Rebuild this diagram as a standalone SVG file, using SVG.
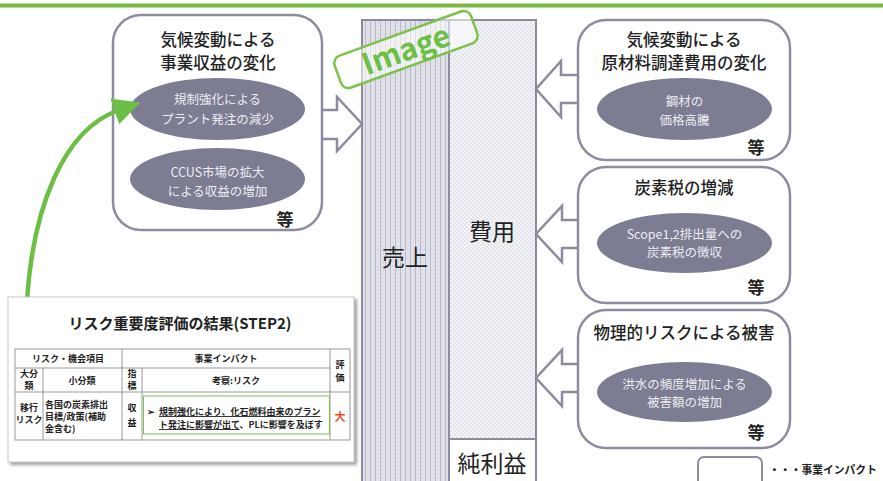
<svg xmlns="http://www.w3.org/2000/svg" width="883" height="481" viewBox="0 0 883 481">
<defs>
<style>
text{font-family:"Noto Sans CJK JP","Noto Sans",sans-serif;}
.box{fill:#fff;stroke:#8c8ca0;stroke-width:2.5;}
.ell{fill:#7c7c92;}
.title{font-size:16.5px;fill:#222;text-anchor:middle;font-weight:500;}
.etxt{font-size:12.5px;fill:#ececf2;text-anchor:middle;}
.etc{font-size:17px;fill:#222;text-anchor:middle;font-weight:700;}
.arr{fill:#fff;stroke:#8c8ca0;stroke-width:2.5;stroke-linejoin:miter;}
.col{stroke:#8a8aa0;stroke-width:2;}
.big{font-size:23px;fill:#222;text-anchor:middle;}
.tl{stroke:#9a9a9a;stroke-width:1;fill:none;}
.tt{font-size:9px;fill:#222;font-weight:700;text-anchor:middle;}
.ttl{font-size:9px;fill:#222;font-weight:700;}
</style>
<pattern id="pSales" width="5" height="4" patternUnits="userSpaceOnUse">
<rect width="5" height="4" fill="#e2e2ea"/>
<rect x="0" y="0" width="1" height="4" fill="#b8b8c8"/>
<circle cx="3" cy="2" r="0.5" fill="#c6c6d2"/>
</pattern>
<pattern id="pCost" width="4" height="4" patternUnits="userSpaceOnUse">
<rect width="4" height="4" fill="#f4f4f8"/>
<circle cx="1" cy="1" r="0.65" fill="#c8c8d3"/>
<circle cx="3" cy="3" r="0.65" fill="#c8c8d3"/>
</pattern>
<marker id="gArrow" markerWidth="6" markerHeight="6" refX="1" refY="3" orient="auto" markerUnits="strokeWidth">
<path d="M0,0 L6,3 L0,6 Z" fill="#6cbf45"/>
</marker>
<filter id="shadow" x="-5%" y="-5%" width="112%" height="115%">
<feDropShadow dx="2.5" dy="2.5" stdDeviation="1.8" flood-color="#777" flood-opacity="0.7"/>
</filter>
</defs>

<rect x="0" y="3.5" width="883" height="4" fill="#78b843"/>

<!-- central columns -->
<g id="columns">
<rect class="col" x="362" y="20" width="87" height="470" fill="url(#pSales)"/>
<rect class="col" x="449" y="20" width="87" height="419" fill="url(#pCost)"/>
<rect class="col" x="449" y="439" width="87" height="50" fill="#fff"/>
<text class="big" x="405" y="266">売上</text>
<text class="big" x="492" y="240">費用</text>
<text class="big" x="492" y="472">純利益</text>
</g>

<!-- Image stamp -->
<g id="stamp" transform="translate(406,49.5) rotate(-20)">
<rect x="-72.5" y="-17" width="145" height="34" rx="8" fill="#fff" fill-opacity="0.55" stroke="#7dc24b" stroke-width="2.5"/>
<text x="0" y="11" font-size="30" font-weight="700" fill="#6cbf40" text-anchor="middle" font-family="Liberation Sans, Arial, sans-serif">Image</text>
</g>

<!-- connectors -->
<g id="connectors">
<path class="arr" d="M322,110 H337 V97 L362,124 L337,151 V139 H322"/>
<path class="arr" d="M579,75 H561 V61 L536,89 L561,117 V103 H579"/>
<path class="arr" d="M579,220 H562 V206 L536,234 L562,262 V248 H579"/>
<path class="arr" d="M579,364 H562 V350 L536,378 L562,406 V392 H579"/>
</g>

<!-- left box -->
<g id="revenue-box">
<rect class="box" x="113" y="15" width="209" height="215" rx="28"/>
<text class="title" x="218" y="46">気候変動による</text>
<text class="title" x="218" y="69">事業収益の変化</text>
<ellipse class="ell" cx="217.5" cy="109" rx="87.5" ry="31"/>
<text class="etxt" x="217.5" y="104">規制強化による</text>
<text class="etxt" x="217.5" y="124">プラント発注の減少</text>
<ellipse class="ell" cx="217.5" cy="179" rx="87.5" ry="31"/>
<text class="etxt" x="217.5" y="177">CCUS市場の拡大</text>
<text class="etxt" x="217.5" y="196">による収益の増加</text>
<text class="etc" x="285" y="226">等</text>
</g>

<!-- right boxes -->
<g id="material-box">
<rect class="box" x="578" y="20" width="212" height="140" rx="28"/>
<text class="title" x="684" y="46">気候変動による</text>
<text class="title" x="684" y="69">原材料調達費用の変化</text>
<ellipse class="ell" cx="684.5" cy="109" rx="87.5" ry="31"/>
<text class="etxt" x="684.5" y="106">鋼材の</text>
<text class="etxt" x="684.5" y="125">価格高騰</text>
<text class="etc" x="756" y="154">等</text>
</g>

<g id="carbon-tax-box">
<rect class="box" x="578" y="167" width="212" height="136" rx="28"/>
<text class="title" x="684" y="194">炭素税の増減</text>
<ellipse class="ell" cx="684.5" cy="243" rx="87.5" ry="30"/>
<text class="etxt" x="684.5" y="239">Scope1,2排出量への</text>
<text class="etxt" x="684.5" y="257">炭素税の徴収</text>
<text class="etc" x="756" y="294">等</text>
</g>

<g id="physical-risk-box">
<rect class="box" x="578" y="310" width="212" height="138" rx="28"/>
<text class="title" x="684" y="339">物理的リスクによる被害</text>
<ellipse class="ell" cx="684.5" cy="392" rx="87.5" ry="30"/>
<text class="etxt" x="684.5" y="389">洪水の頻度増加による</text>
<text class="etxt" x="684.5" y="407">被害額の増加</text>
<text class="etc" x="756" y="439">等</text>
</g>

<!-- callout arrow from table to left box -->
<g id="callout">
<path d="M27,300 C33,210 62,130 119,110" fill="none" stroke="#6cbf45" stroke-width="4.5" marker-end="url(#gArrow)"/>
</g>

<!-- table card -->
<g id="result-table">
<rect x="8" y="297" width="346" height="165" fill="#fff" stroke="#c8c8c8" stroke-width="1" filter="url(#shadow)"/>
<text x="180" y="329" font-size="15" font-weight="700" fill="#222" text-anchor="middle">リスク重要度評価の結果(STEP2)</text>
<rect class="tl" x="15" y="349" width="335" height="91"/>
<line class="tl" x1="15" y1="368" x2="330" y2="368"/>
<line class="tl" x1="15" y1="392" x2="350" y2="392"/>
<line class="tl" x1="122" y1="349" x2="122" y2="440"/>
<line class="tl" x1="330" y1="349" x2="330" y2="440"/>
<line class="tl" x1="43" y1="368" x2="43" y2="440"/>
<line class="tl" x1="142" y1="368" x2="142" y2="440"/>
<text class="tt" x="68" y="362">リスク・機会項目</text>
<text class="tt" x="226" y="362">事業インパクト</text>
<text class="tt" x="340" y="368">評</text>
<text class="tt" x="340" y="381">価</text>
<text class="tt" x="29" y="377">大分</text>
<text class="tt" x="29" y="389">類</text>
<text class="tt" x="82" y="384">小分類</text>
<text class="tt" x="132" y="377">指</text>
<text class="tt" x="132" y="389">標</text>
<text class="tt" x="236" y="384">考察:リスク</text>
<text class="tt" x="29" y="411">移行</text>
<text class="tt" x="29" y="423">リスク</text>
<text class="ttl" x="45" y="408">各国の炭素排出</text>
<text class="ttl" x="45" y="420">目標/政策(補助</text>
<text class="ttl" x="45" y="432">金含む)</text>
<text class="tt" x="132" y="411">収</text>
<text class="tt" x="132" y="426">益</text>
<rect x="143.5" y="396" width="186" height="38" fill="#fff" stroke="#7ec050" stroke-width="1"/>
<text class="ttl" x="147" y="415">➢</text>
<text class="ttl" x="159" y="415" font-size="9" text-decoration="underline">規制強化により、化石燃料由来のプラン</text>
<text class="ttl" x="159" y="428" font-size="9"><tspan text-decoration="underline">ト発注に影響が出て</tspan>、PLに影響を及ぼす</text>
<text x="340" y="421" font-size="11" font-weight="700" fill="#e0501e" text-anchor="middle">大</text>
</g>

<!-- legend -->
<g id="legend">
<rect x="698" y="457" width="64" height="40" rx="6" fill="#fff" stroke="#8c8ca0" stroke-width="2"/>
<text x="769" y="474" font-size="10.8" font-weight="700" fill="#222">・・・事業インパクト</text>
</g>
</svg>
